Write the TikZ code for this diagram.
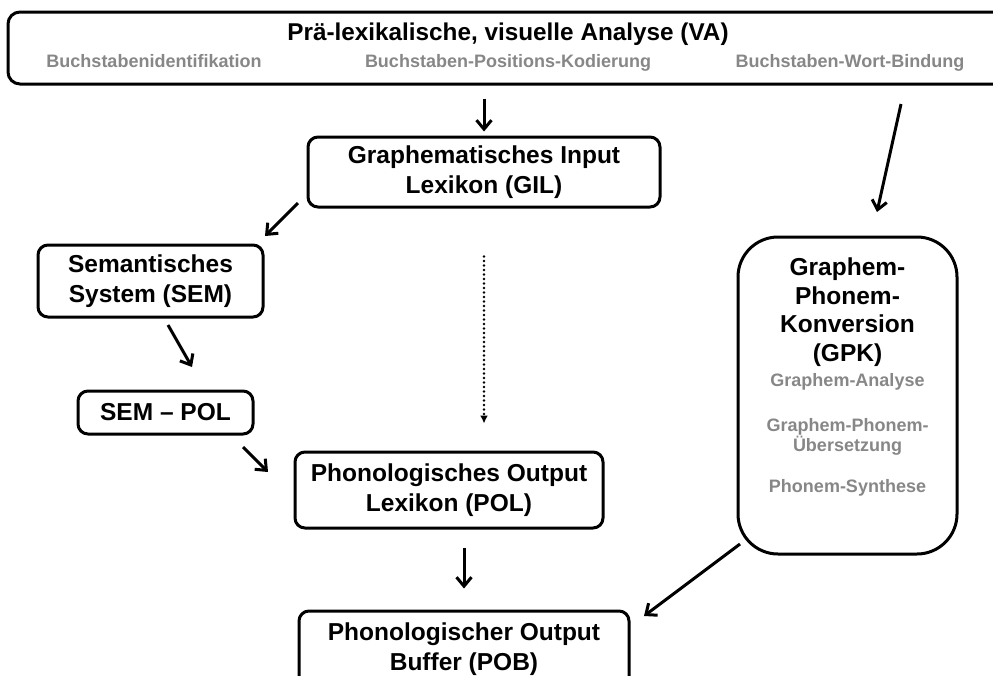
\documentclass[tikz,border=0pt]{standalone}
\usepackage{fontspec}
\setmainfont{Liberation Sans}
\usetikzlibrary{arrows.meta,calc}
\definecolor{gtxt}{RGB}{135,135,135}
\tikzset{
  box/.style={draw=black, line width=3pt, fill=white, rounded corners=10pt, inner sep=0pt},
  big/.style={font=\fontsize{24.5}{29.5}\selectfont\bfseries, align=center, inner sep=0pt},
  small/.style={font=\fontsize{18}{20}\selectfont\bfseries, text=gtxt, align=center, inner sep=0pt},
  arr/.style={line width=3pt, -{Straight Barb[length=9pt,width=15pt,line width=3pt]}},
  dotarr/.style={line width=2.8pt, line cap=round, dash pattern=on 0pt off 4.5pt, -{Latex[length=8pt,width=8pt]}}
}
\begin{document}
\begin{tikzpicture}[x=1pt,y=-1pt]
\useasboundingbox (0,0) rectangle (993,675);
% boxes
\node[box, rounded corners=12pt, minimum width=1000pt, minimum height=72pt] (VA) at (508,48) {};
\node[box, minimum width=352pt, minimum height=70pt] (GIL) at (484,172) {};
\node[box, minimum width=225pt, minimum height=72pt] (SEM) at (150.5,281) {};
\node[box, minimum width=175pt, minimum height=43pt] (SP) at (165.5,412.5) {};
\node[box, minimum width=308pt, minimum height=76pt] (POL) at (449,490) {};
\node[box, minimum width=330pt, minimum height=76pt] (POB) at (464,649) {};
\node[box, rounded corners=40pt, minimum width=219pt, minimum height=317pt] (GPK) at (847.5,395.5) {};
% texts
\node[big, font=\fontsize{24.3}{29}\selectfont\bfseries] (VAt) at (508,34) {Prä-lexikalische, visuelle Analyse (VA)};
\node[small, anchor=base] (VA1) at (154,67.5) {Buchstabenidentifikation};
\node[small, anchor=base] (VA2) at (508,67.5) {Buchstaben-Positions-Kodierung};
\node[small, anchor=base] (VA3) at (850,67.5) {Buchstaben-Wort-Bindung};
\node[big] (GILt) at (GIL) {Graphematisches Input\\Lexikon (GIL)};
\node[big] (SEMt) at (SEM) {Semantisches\\System (SEM)};
\node[big] (SPt) at (SP) {SEM – POL};
\node[big] (POLt) at (POL) {Phonologisches Output\\Lexikon (POL)};
\node[big] (POBt) at (POB) {Phonologischer Output\\Buffer (POB)};
\node[big, font=\fontsize{24.5}{28.5}\selectfont\bfseries] (GPKt) at (847.5,312) {Graphem-\\Phonem-\\Konversion\\(GPK)};
\node[small] (GPK1) at (847.5,382) {Graphem-Analyse};
\node[small] (GPK2) at (847.5,437) {Graphem-Phonem-\\Übersetzung};
\node[small] (GPK3) at (847.5,488) {Phonem-Synthese};
% connector end points
\coordinate (c2s) at (901,104);
\coordinate (c2e) at (877,212);
\coordinate (c3s) at (298,203);
\coordinate (c3e) at (265,236);
\coordinate (c5s) at (168,325);
\coordinate (c5e) at (192,367);
\coordinate (c6s) at (243,447);
\coordinate (c6e) at (268,472);
\coordinate (c8s) at (740,544);
\coordinate (c8e) at (644,616);
% connectors
\draw[arr, shorten <=13pt, shorten >=4pt] (VA.south -| GIL.north) -- (GIL.north);
\draw[arr] (c2s) -- (c2e);
\draw[arr] (c3s) -- (c3e);
\draw[dotarr, shorten <=48pt, shorten >=27pt] (GIL.south) -- (GIL.south |- POL.north);
\draw[arr] (c5s) -- (c5e);
\draw[arr] (c6s) -- (c6e);
\draw[arr, shorten <=18pt, shorten >=21pt] (POB.north |- POL.south) -- (POB.north);
\draw[arr] (c8s) -- (c8e);
\end{tikzpicture}
\end{document}
